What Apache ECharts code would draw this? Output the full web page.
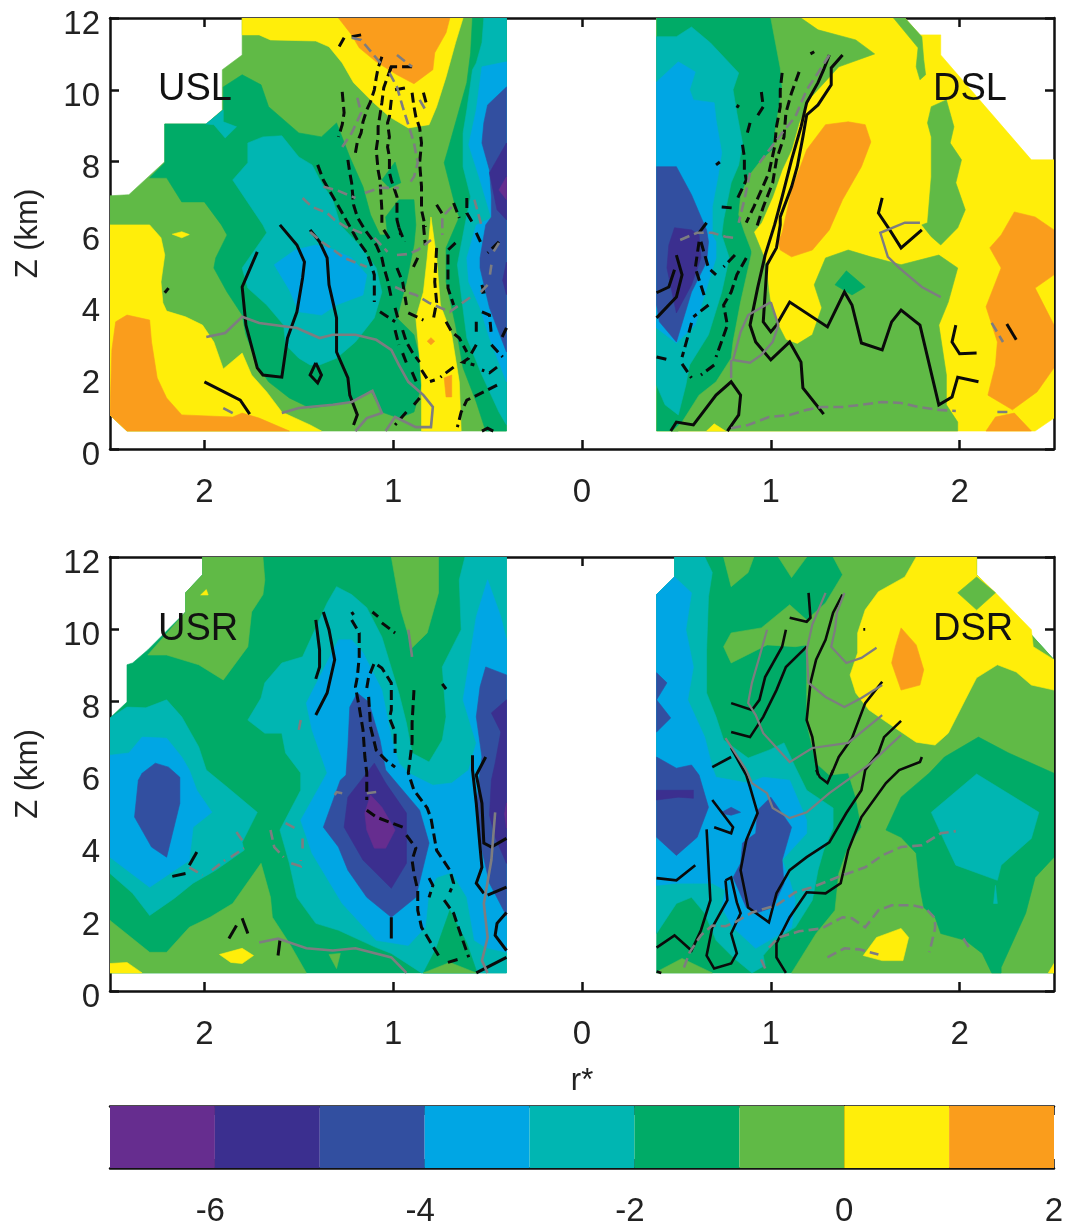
<!DOCTYPE html>
<html><head><meta charset="utf-8">
<style>html,body{margin:0;padding:0;background:#fff}#c{width:1066px;height:1223px}</style>
<script src="https://cdn.jsdelivr.net/npm/echarts@6/dist/echarts.min.js"></script></head>
<body><div id="c"></div>
<script>
// Colour classes: class i covers colourEdges[i]..colourEdges[i+1]
const colourEdges=[-7,-6,-5,-4,-3,-2,-1,0,1,2];
const classColours=['#662D8F','#3B2F8F','#324FA0','#00A6E4','#00B6B2','#00AB67','#60BA46','#FFEE0A','#FA9D1C'];
const rTicks=[-2,-1,0,1,2];
const colourTicks=[-6,-4,-2,0,2];

// Filled bands: [class, [r,z,r,z,...]], painted in order
const USL_bands=[
[6,[-2.5,7.05,-2.40,7.08,-2.21,8.0,-2.21,9.05,-1.99,9.05,-1.905,9.44,-1.905,10.56,-1.80,10.97,-1.80,12,-0.4,12,-0.4,0.5,-2.41,0.5,-2.5,0.95]],
[7,[-2.5,6.24,-2.29,6.24,-2.23,5.88,-2.21,5.40,-2.23,4.65,-2.22,4.07,-2.20,3.84,-2.10,3.68,-2.01,3.45,-1.95,2.98,-1.90,2.23,-1.80,2.67,-1.75,2.06,-1.67,1.59,-1.59,1.03,-1.44,0.67,-1.38,0.5,-2.41,0.5,-2.5,0.95]],
[8,[-2.49,2.76,-2.47,3.54,-2.41,3.73,-2.29,3.59,-2.28,2.98,-2.25,1.98,-2.20,1.42,-2.12,0.95,-1.85,0.89,-1.80,1.0,-1.71,0.86,-1.55,0.5,-2.41,0.5,-2.5,0.95]],
[7,[-2.17,5.98,-2.12,6.05,-2.08,5.97,-2.12,5.88]],
[7,[-1.80,12,-1.80,11.53,-1.71,11.53,-1.65,11.39,-1.41,11.36,-1.34,11.2,-1.27,10.75,-1.21,10.2,-1.11,9.67,-1.02,9.25,-0.92,8.94,-0.81,9.03,-0.77,9.53,-0.72,10.36,-0.67,11.31,-0.63,12]],
[8,[-1.29,12,-1.22,11.53,-1.18,11.17,-1.09,10.78,-0.98,10.42,-0.89,10.17,-0.79,10.56,-0.78,11.03,-0.72,11.59,-0.70,12]],
[5,[-1.90,9.44,-1.99,9.05,-2.21,9.05,-2.21,7.97,-2.29,7.55,-2.20,7.55,-2.12,6.88,-2.0,6.88,-1.91,6.24,-1.88,5.96,-1.94,5.32,-1.95,5.04,-1.88,4.37,-1.80,3.73,-1.78,3.18,-1.72,2.34,-1.66,1.87,-1.55,1.42,-1.44,1.14,-1.32,1.23,-1.21,1.31,-1.12,1.64,-1.06,1.03,-0.97,0.86,-0.89,1.03,-0.85,1.78,-0.86,2.53,-0.89,3.18,-0.98,3.65,-0.93,4.65,-0.89,5.68,-0.88,6.24,-0.89,6.94,-0.97,6.94,-1.04,6.46,-1.03,5.96,-1.07,5.96,-1.12,6.52,-1.16,7.30,-1.23,8.13,-1.30,9.08,-1.38,8.69,-1.50,8.80,-1.66,9.53,-1.70,10.14,-1.80,10.42,-1.90,10.08]],
[4,[-1.99,9.05,-1.90,9.44,-1.90,9.11,-1.83,8.97,-1.89,8.66,-1.95,9.03]],
[5,[-1.06,7.49,-0.99,7.99,-0.96,7.41,-1.02,7.27]],
[7,[-0.80,6.46,-0.82,5.32,-0.84,4.37,-0.88,3.65,-0.86,2.53,-0.85,1.78,-0.85,0.5,-0.64,0.5,-0.65,1.87,-0.69,3.18,-0.75,4.01,-0.77,5.32]],
[8,[-0.73,1.98,-0.69,2.06,-0.69,1.45,-0.72,1.45]],
[8,[-0.80,3.1,-0.78,3.0,-0.80,2.9,-0.82,3.0]],
[5,[-0.58,12,-0.59,11.03,-0.61,10.2,-0.71,8.33,-0.73,7.97,-0.67,6.74,-0.65,6.46,-0.72,5.60,-0.72,4.65,-0.67,3.45,-0.63,2.26,-0.56,1.31,-0.51,0.5,-0.4,0.5,-0.4,12]],
[4,[-1.77,8.52,-1.69,8.69,-1.59,8.72,-1.50,8.13,-1.43,7.91,-1.38,7.41,-1.32,6.94,-1.28,6.24,-1.18,5.68,-1.09,5.04,-1.06,4.37,-1.10,3.65,-1.20,2.98,-1.30,2.53,-1.39,2.34,-1.44,2.34,-1.50,2.53,-1.57,2.90,-1.58,3.45,-1.67,4.01,-1.77,4.48,-1.80,5.04,-1.67,6.02,-1.69,6.24,-1.85,7.49,-1.77,7.97]],
[3,[-1.63,5.13,-1.52,5.54,-1.41,5.68,-1.34,5.60,-1.22,5.32,-1.14,4.85,-1.16,4.29,-1.30,4.01,-1.38,3.73,-1.50,3.82,-1.55,4.43]],
[4,[-0.52,12,-0.53,11.31,-0.56,10.75,-0.58,10.56,-0.61,9.44,-0.63,8.80,-0.63,7.86,-0.59,7.02,-0.62,6.24,-0.66,5.13,-0.61,3.09,-0.53,2.06,-0.44,1.03,-0.4,0.67,-0.4,12]],
[3,[-0.4,10.78,-0.53,10.64,-0.56,9.44,-0.60,8.47,-0.54,7.49,-0.48,6.43,-0.56,6.24,-0.61,5.32,-0.60,4.65,-0.54,3.93,-0.49,3.09,-0.4,1.87]],
[2,[-0.4,10.08,-0.50,9.58,-0.52,9.08,-0.53,8.52,-0.49,7.77,-0.48,7.02,-0.48,6.46,-0.51,6.24,-0.54,5.32,-0.54,5.04,-0.49,3.93,-0.4,2.70]],
[1,[-0.4,8.52,-0.49,7.69,-0.45,6.66,-0.4,6.38]],
[1,[-0.4,5.2,-0.42,4.7,-0.4,4.3]],
[0,[-0.4,7.58,-0.44,7.21,-0.4,6.94]]
];
const DSL_bands=[
[7,[0.395,0.5,0.395,12,1.71,12,1.79,11.53,1.90,11.53,1.90,10.97,2.38,8.05,2.5,8.05,2.5,0.86,2.40,0.5]],
[5,[0.395,12,1.10,12,1.10,9.16,1.04,8.05,0.88,6.10,0.94,4.15,0.86,2.2,0.67,1.36,0.51,0.5,0.395,0.5]],
[6,[1.0,12,1.16,12,1.25,11.67,1.45,11.39,1.55,11.0,1.36,10.64,1.20,9.72,1.15,9.08,1.11,8.33,1.06,7.77,1.01,7.02,0.95,6.30,0.91,6.04,0.96,5.40,0.97,5.32,0.99,4.37,1.0,4.01,1.04,3.45,1.08,3.04,1.14,2.92,1.22,3.18,1.27,3.93,1.23,4.57,1.29,5.32,1.41,5.54,1.53,5.35,1.69,5.13,1.89,5.40,1.99,5.04,1.94,4.09,1.89,3.45,1.93,2.06,1.93,1.23,1.99,0.75,1.99,0.5,0.48,0.5,0.53,0.75,0.62,1.50,0.71,1.87,0.79,2.53,0.80,2.98,0.84,4.09,0.90,5.49,0.86,6.04,0.83,6.52,0.84,7.02,0.88,7.58,0.95,8.05,1.01,8.33,1.03,9.08,1.06,10.08,1.05,10.61]],
[4,[0.395,11.48,0.50,11.48,0.58,11.75,0.68,11.31,0.83,10.47,0.80,10.0,0.82,9.36,0.85,8.52,0.83,7.91,0.79,7.41,0.75,6.38,0.74,5.96,0.78,5.32,0.74,4.37,0.67,3.18,0.57,2.34,0.55,1.78,0.51,0.95,0.44,1.23,0.395,1.78]],
[3,[0.395,10.22,0.51,10.78,0.60,10.5,0.57,10.0,0.59,9.72,0.70,9.64,0.71,9.16,0.74,8.25,0.72,7.58,0.69,6.74,0.69,5.96,0.71,5.77,0.71,5.32,0.67,4.65,0.60,3.45,0.50,2.95,0.395,3.37]],
[2,[0.395,7.86,0.50,7.86,0.58,7.08,0.63,6.46,0.66,6.10,0.67,5.77,0.66,5.21,0.58,4.37,0.50,2.98,0.41,3.54,0.395,4.01]],
[1,[0.49,6.16,0.58,6.10,0.62,5.96,0.63,5.32,0.58,4.57,0.50,3.79,0.45,5.04,0.46,5.68]],
[8,[1.29,9.03,1.41,9.11,1.50,9.03,1.53,8.55,1.48,7.86,1.38,6.94,1.31,6.10,1.22,5.54,1.11,5.35,1.05,5.54,1.04,5.77,1.06,6.02,1.11,7.21,1.19,8.33]],
[5,[1.40,4.96,1.50,4.51,1.43,4.29,1.34,4.57]],
[6,[1.65,12,1.71,12,1.80,11.48,1.81,10.84,1.82,10.42,1.79,10.28,1.77,10.64,1.78,11.17]],
[6,[1.85,9.53,1.93,9.72,1.97,8.97,1.95,8.52,2.01,8.05,1.98,7.41,2.03,6.66,1.99,6.16,1.90,5.68,1.85,5.91,1.80,6.24,1.83,6.30,1.85,7.58,1.85,8.69,1.83,9.08]],
[8,[2.22,5.96,2.29,6.60,2.40,6.46,2.5,6.10,2.5,4.85,2.40,4.48,2.5,3.45,2.5,2.26,2.41,1.59,2.28,1.09,2.15,1.50,2.19,2.34,2.20,2.98,2.14,3.96,2.22,5.04,2.16,5.60]],
[8,[2.14,0.5,2.19,0.89,2.29,1.0,2.38,0.5]],
[7,[0.66,0.5,0.70,0.70,0.76,0.5]]
];
const USR_bands=[
[5,[-2.01,12,-2.01,11.51,-2.10,11.01,-2.10,10.48,-2.30,9.43,-2.38,9.07,-2.41,9.02,-2.41,7.99,-2.5,7.55,-2.5,0.5,-0.4,0.5,-0.4,12]],
[6,[-2.01,12,-1.69,12,-1.68,11.37,-1.69,10.96,-1.75,10.48,-1.77,9.52,-1.90,8.60,-2.03,9.02,-2.20,9.29,-2.30,9.29,-2.10,10.48,-2.10,11.01,-2.01,11.51]],
[6,[-1.01,12,-0.76,12,-0.76,11.01,-0.82,9.90,-0.90,9.49,-0.96,10.54]],
[7,[-2.02,10.95,-1.99,11.1,-1.98,10.95]],
[4,[-2.5,7.55,-2.41,7.85,-2.31,7.83,-2.20,8.05,-2.12,7.58,-2.03,6.75,-1.99,6.11,-1.88,5.64,-1.72,4.94,-1.80,4.11,-1.79,3.89,-1.94,3.34,-2.06,2.98,-2.16,2.56,-2.29,2.09,-2.38,2.70,-2.5,3.25]],
[3,[-2.5,6.52,-2.40,6.58,-2.33,7.02,-2.20,6.99,-2.12,6.47,-2.08,6.11,-2.04,5.55,-1.96,4.94,-2.06,4.53,-2.08,3.61,-2.29,2.87,-2.43,3.42,-2.5,3.70]],
[2,[-2.33,6.02,-2.26,6.30,-2.19,6.19,-2.13,5.91,-2.13,5.19,-2.20,3.70,-2.28,3.98,-2.37,4.81,-2.35,5.83]],
[4,[-1.30,11.18,-1.35,10.73,-1.48,9.24,-1.59,9.07,-1.68,8.52,-1.70,8.10,-1.77,7.49,-1.68,7.13,-1.59,7.13,-1.57,6.58,-1.49,6.03,-1.49,5.55,-1.60,4.45,-1.55,3.53,-1.51,2.59,-1.41,1.87,-1.29,1.68,-1.09,1.20,-1.01,1.04,-0.85,0.5,-0.4,0.5,-0.4,12,-0.62,12,-0.65,11.37,-0.64,9.99,-0.74,8.96,-0.72,7.58,-0.74,6.94,-0.81,6.33,-0.90,6.58,-0.93,7.41,-0.97,8.24,-1.06,9.79,-1.14,10.60,-1.22,10.96]],
[3,[-1.29,9.71,-1.22,9.71,-1.16,9.35,-1.06,8.32,-1.01,7.02,-0.97,6.30,-0.92,6.03,-0.79,5.69,-0.69,5.75,-0.60,6.11,-0.56,6.86,-0.63,8.05,-0.56,10.35,-0.50,11.37,-0.43,10.35,-0.4,9.71,-0.4,1.07,-0.51,1.20,-0.57,1.40,-0.61,2.59,-0.69,3.28,-0.77,3.14,-0.81,2.78,-0.83,1.76,-0.92,1.26,-1.09,1.40,-1.27,2.42,-1.43,3.81,-1.49,4.72,-1.35,6.03,-1.43,7.22,-1.46,7.96]],
[2,[-1.19,8.24,-1.23,7.85,-1.24,6.75,-1.25,5.97,-1.28,5.83,-1.37,4.53,-1.29,3.98,-1.24,3.34,-1.14,2.59,-1.01,2.04,-0.88,2.59,-0.81,4.09,-0.86,5.0,-1.04,6.11,-1.07,6.94,-1.13,7.99]],
[1,[-1.10,6.30,-1.14,6.03,-1.24,5.36,-1.26,4.53,-1.16,3.62,-1.01,2.84,-0.93,3.53,-0.93,4.92,-1.04,5.75]],
[0,[-1.12,5.42,-1.15,4.92,-1.14,4.45,-1.10,3.95,-1.04,3.95,-0.99,4.45,-1.06,5.08]],
[2,[-0.51,8.96,-0.4,8.74,-0.4,2.08,-0.49,2.98,-0.53,3.89,-0.56,5.0,-0.54,6.11,-0.53,6.47,-0.56,7.58,-0.54,8.41]],
[1,[-0.4,8.05,-0.48,7.69,-0.43,7.16,-0.46,6.30,-0.48,5.83,-0.49,4.86,-0.46,4.25,-0.4,3.53]],
[0,[-0.4,5.2,-0.41,4.9,-0.4,4.5]],
[5,[-0.70,2.23,-0.61,1.32,-0.56,0.57,-0.56,0.5,-0.84,0.5,-0.77,1.20]],
[6,[-0.84,0.5,-0.70,0.79,-0.56,0.5]],
[6,[-2.5,1.95,-2.29,1.07,-2.20,1.07,-2.08,1.76,-1.97,2.04,-1.85,2.42,-1.70,3.53,-1.65,2.59,-1.64,2.04,-1.55,1.32,-1.46,0.5,-2.5,0.5]],
[7,[-2.5,0.76,-2.41,0.79,-2.33,0.5,-2.5,0.5]],
[7,[-1.92,1.01,-1.80,1.18,-1.74,0.98,-1.80,0.76,-1.86,0.79]],
[6,[-1.34,1.01,-1.28,1.04,-1.30,0.62]]
];
const DSR_bands=[
[5,[0.395,10.96,0.49,11.45,0.49,12,2.09,12,2.09,11.51,2.5,9.16,2.5,0.5,0.395,0.5]],
[6,[0.75,9.52,0.79,9.90,0.95,10.04,1.10,10.68,1.19,10.26,1.29,10.73,1.38,11.51,1.33,12,2.09,12,2.09,11.51,2.5,9.16,2.5,0.5,1.11,0.5,1.24,1.59,1.34,2.23,1.36,3.25,1.41,3.98,1.48,4.53,1.45,5.36,1.41,6.03,1.31,5.97,1.24,6.30,1.19,7.41,1.19,8.52,1.19,9.57,1.13,9.52,0.98,9.57,0.79,9.07]],
[6,[0.75,12,0.91,12,0.88,11.57,0.79,11.18]],
[6,[1.04,12,1.19,12,1.11,11.43]],
[4,[0.49,12,0.65,12,0.69,11.57,0.67,10.90,0.66,9.43,0.66,8.24,0.71,7.58,0.75,6.94,0.88,6.44,0.99,6.66,1.07,6.86,1.13,6.19,1.19,5.55,1.33,5.06,1.33,4.50,1.28,3.89,1.25,3.34,1.22,2.51,1.13,1.76,1.04,1.48,0.96,0.98,0.97,0.71,0.90,0.5,0.80,0.93,0.71,1.40,0.65,2.15,0.58,2.59,0.50,2.42,0.395,1.59,0.395,10.96,0.49,11.45]],
[3,[0.395,10.96,0.49,11.45,0.58,11.01,0.55,9.99,0.59,8.96,0.56,8.05,0.65,7.02,0.69,6.19,0.71,5.91,0.88,5.75,0.96,5.91,1.10,5.83,1.19,4.72,1.19,4.36,1.06,3.62,1.10,3.06,1.13,2.51,1.11,1.76,0.92,1.18,0.80,1.76,0.74,2.31,0.76,2.78,0.69,2.98,0.59,2.98,0.50,2.98,0.395,2.92]],
[2,[0.395,8.80,0.45,8.52,0.395,8.05,0.47,7.55,0.395,7.16]],
[2,[0.395,6.47,0.50,6.16,0.58,6.25,0.62,5.97,0.67,5.08,0.61,4.25,0.50,3.75,0.395,4.25]],
[1,[0.395,5.55,0.59,5.55,0.59,5.33,0.51,5.36,0.395,5.28]],
[2,[1.0,5.36,1.11,4.53,1.06,3.62,1.07,2.98,1.01,2.31,0.92,2.15,0.87,2.31,0.80,3.14,0.84,3.53,0.85,4.09,0.92,4.36,0.93,5.0]],
[2,[0.74,4.94,0.79,5.08,0.84,4.94,0.79,4.86,0.76,4.89]],
[5,[1.61,4.45,1.69,5.36,1.84,6.03,1.92,6.47,2.10,7.02,2.26,6.58,2.5,6.02,2.5,3.70,2.40,3.14,2.35,2.15,2.22,0.65,2.22,0.5,2.17,0.5,2.12,1.04,2.03,1.40,1.90,1.59,1.87,2.04,1.81,2.31,1.79,2.87,1.77,3.81,1.69,4.25]],
[4,[2.09,6.0,2.42,4.94,2.38,4.22,2.22,3.48,2.20,3.06,1.98,3.48,1.93,4.03,1.85,4.94]],
[4,[2.19,2.92,2.20,2.42,2.18,2.42]],
[7,[1.77,12,2.09,12,2.09,11.51,2.19,11.01,2.38,9.99,2.39,9.52,2.5,9.16,2.5,8.32,2.38,8.46,2.30,8.82,2.20,9.02,2.09,8.66,2.03,8.05,1.94,7.13,1.87,6.80,1.77,6.88,1.62,7.41,1.52,7.77,1.45,8.24,1.42,8.74,1.46,9.35,1.46,9.90,1.50,10.54,1.57,11.04,1.71,11.45]],
[6,[1.99,11.01,2.09,11.45,2.19,11.01,2.09,10.54]],
[8,[1.69,10.04,1.77,9.57,1.81,8.88,1.79,8.46,1.69,8.32,1.64,9.07,1.66,9.52]],
[7,[1.69,1.73,1.73,1.48,1.70,0.84,1.59,0.84,1.49,0.98,1.56,1.48]],
[7,[2.47,0.5,2.5,0.76,2.5,0.5]],
[6,[0.395,0.5,0.41,0.57,0.53,0.90,0.69,0.5]]
];

// Contours: flat r,z lists
const USL_blackDashed=[
[-1.26,11.45,-1.29,11.17],[-1.22,11.48,-1.17,11.53],
[-1.27,9.94,-1.26,9.36,-1.27,9.03,-1.29,8.69],
[-1.06,10.92,-1.08,10.61,-1.09,10.33,-1.10,10.0,-1.12,9.67,-1.14,9.44,-1.16,9.11,-1.17,8.80,-1.19,8.55,-1.20,8.25],
[-1.01,10.64,-1.03,10.36,-1.05,10.06,-1.06,9.64,-1.07,9.30,-1.08,8.97,-1.08,8.69,-1.09,8.33,-1.08,7.77,-1.07,7.49,-1.06,6.66,-1.06,6.30],
[-0.90,10.64,-1.01,10.64,-1.02,10.5],[-0.99,10.0,-0.93,10.06],
[-1.01,9.72,-1.02,9.25,-1.03,9.08,-1.02,8.69,-1.03,8.41,-1.02,8.13,-1.02,7.69,-1.01,7.49,-0.98,7.02,-0.98,6.38,-0.96,5.96],
[-0.90,9.92,-0.89,9.53,-0.88,9.25,-0.86,8.94,-0.85,8.52,-0.86,7.97,-0.85,7.30,-0.85,6.66,-0.83,6.18],
[-0.84,9.92,-0.82,9.53],
[-1.40,7.91,-1.37,7.49,-1.31,6.94,-1.27,6.57,-1.22,6.10,-1.19,5.82,-1.14,5.46,-1.12,5.18,-1.10,4.85,-1.10,4.09],
[-1.24,8.05,-1.23,7.69,-1.22,7.41,-1.21,6.80,-1.19,6.46,-1.15,6.10,-1.09,5.68,-1.06,5.32,-1.05,5.07,-1.03,4.71,-1.01,4.21],
[-1.07,3.82,-0.99,3.54],[-0.99,3.93,-0.97,3.54],[-0.99,3.31,-0.97,2.90],[-0.95,2.67,-0.93,2.40],[-0.90,2.14,-0.87,1.78],
[-1.05,6.10,-1.01,5.77],[-0.97,6.16,-0.94,5.77],
[-0.98,5.04,-0.95,4.65,-0.93,4.01],
[-0.95,3.31,-0.93,2.98,-0.90,2.70,-0.86,2.42],
[-0.85,2.2,-0.81,1.87,-0.78,1.92],
[-0.92,3.79,-0.84,3.59],[-0.84,6.24,-0.83,5.68],[-0.87,5.32,-0.90,4.99],
[-0.77,5.60,-0.78,4.65,-0.77,4.09,-0.79,3.54],
[-0.67,5.74,-0.71,5.54,-0.71,4.48,-0.68,4.01],
[-0.72,3.54,-0.69,3.26,-0.65,3.09,-0.61,2.70],
[-0.68,2.28,-0.75,2.0],
[-0.56,2.90,-0.60,2.53,-0.63,2.42,-0.57,2.34],
[-0.45,2.28,-0.49,2.12,-0.53,2.2],
[-0.45,1.78,-0.52,1.59,-0.61,1.36,-0.64,1.03,-0.66,0.61],
[-0.93,1.03,-0.99,0.67],[-0.86,1.42,-0.89,1.23],[-0.48,2.90,-0.42,2.56],[-0.56,3.54,-0.56,3.18],
[-0.53,3.82,-0.49,3.73,-0.48,3.18],[-0.4,3.37,-0.43,3.04],[-0.44,5.77,-0.50,5.46],
[-0.53,4.57,-0.52,4.37,-0.54,4.35],[-0.56,6.02,-0.53,5.68],
[-0.77,6.80,-0.73,6.46],[-0.68,6.85,-0.65,6.43],[-0.61,6.99,-0.61,6.57,-0.58,6.30]
];
const USL_blackSolid=[
[-1.72,5.49,-1.80,4.51,-1.78,3.45,-1.72,2.26,-1.69,2.06,-1.59,2.0,-1.56,3.09,-1.51,3.82,-1.48,4.76,-1.47,5.21,-1.51,5.68,-1.60,6.24],
[-1.44,6.10,-1.39,5.77,-1.35,5.32,-1.34,4.57,-1.30,3.65,-1.30,2.70,-1.24,1.98,-1.23,1.50,-1.19,0.95,-1.21,0.67],
[-2.0,1.87,-1.81,1.36,-1.76,0.97],
[-1.41,2.40,-1.38,2.06,-1.40,1.84,-1.44,2.06,-1.41,2.40],
[-2.21,4.35,-2.19,4.48],[-0.53,0.5,-0.50,0.58,-0.47,0.5]
];
const USL_graySolid=[
[-1.99,3.12,-1.89,3.23,-1.80,3.68,-1.71,3.51,-1.51,3.37,-1.39,3.09,-1.32,3.18,-1.20,3.18,-1.09,3.04,-1.01,2.76,-0.97,2.34,-0.92,1.87,-0.84,1.50,-0.79,1.17,-0.80,0.61,-0.88,0.61,-0.99,0.89,-1.04,0.5],
[-1.59,1.0,-1.50,1.14,-1.32,1.23,-1.22,1.31,-1.11,1.62,-1.06,1.0,-1.14,0.86,-1.20,0.5],
[-1.90,1.14,-1.85,1.0]
];
const USL_grayDashed=[
[-1.22,11.45,-1.17,11.39,-1.06,10.70],[-0.98,10.97,-0.90,10.64],
[-1.02,10.47,-0.98,10.08,-0.95,9.53,-0.92,9.03,-0.89,8.52,-0.87,7.97,-0.89,7.58,-0.92,7.35],
[-1.15,7.13,-1.07,7.27,-0.97,7.27],[-1.37,7.30,-1.30,7.21,-1.20,6.99],
[-1.48,6.99,-1.43,6.74,-1.35,6.57,-1.31,6.38,-1.25,6.18,-1.14,5.96],
[-1.19,9.78,-1.17,9.36,-1.22,8.80,-1.27,8.41],[-0.86,9.72,-0.82,9.36],
[-0.69,6.74,-0.74,6.46,-0.74,5.96],[-0.57,6.94,-0.53,6.18],
[-1.44,6.04,-1.38,5.77,-1.33,5.60,-1.26,5.32,-1.14,5.07],[-1.10,5.88,-1.03,5.49],
[-0.99,4.51,-0.93,4.37,-0.88,4.29,-0.81,4.07,-0.70,3.82,-0.59,4.23],
[-0.98,5.40,-0.92,5.43,-0.87,5.54,-0.80,5.82],
[-0.44,5.74,-0.48,5.40],[-0.48,5.13,-0.49,4.76],[-0.50,4.57,-0.54,4.35]
];
const DSL_blackSolid=[
[1.38,10.97,1.32,10.61,1.32,10.14,1.25,9.58,1.19,9.30,1.17,8.69,1.14,7.86,1.11,7.30,1.05,6.46,1.05,6.24,1.03,5.60,0.98,5.13,0.96,3.54,1.0,3.26,1.03,3.45],
[1.31,10.97,1.28,10.56,1.25,10.20,1.19,9.64,1.16,8.97,1.11,8.05,1.06,7.02,1.02,6.24,0.97,5.40,0.93,4.48,0.89,3.45,0.92,2.98,1.0,2.48,1.10,2.98,1.16,2.42,1.17,1.70,1.28,0.97],
[1.03,3.45,1.10,4.09,1.30,3.40,1.39,4.37,1.43,4.01,1.48,2.95,1.59,2.76,1.64,3.54,1.69,3.87,1.79,3.45,1.89,1.23,1.96,1.45,1.99,2.0,2.10,1.87],
[1.98,3.45,1.96,2.98,2.0,2.65,2.09,2.67],[2.25,3.48,2.30,3.04],
[1.59,6.99,1.57,6.57,1.63,6.10,1.69,5.60,1.80,6.10],
[0.47,0.5,0.50,0.75,0.59,0.67,0.71,1.50,0.79,1.87,0.84,1.50,0.83,0.95,0.77,0.5],
[0.395,4.35,0.46,4.51,0.49,4.99],[0.50,5.40,0.53,4.85,0.50,4.23,0.395,3.65],
[0.66,6.30,0.62,6.02]
];
const DSL_blackDashed=[
[0.62,5.77,0.60,5.04,0.65,4.23],[0.63,5.77,0.67,5.04,0.71,4.85],[0.81,5.40,0.75,5.07],
[0.87,5.32,0.82,4.85,0.79,4.37,0.75,4.01,0.77,3.45,0.71,2.56],
[0.67,4.01,0.59,3.68],[0.58,3.51,0.56,3.12,0.53,2.56],[0.395,2.56,0.46,2.48],[0.53,2.37,0.58,1.98],[0.70,2.34,0.63,2.06],
[1.06,10.47,1.05,10.0,1.05,9.53,1.03,8.97,1.02,8.41,0.99,7.69,0.95,7.21,0.91,6.74,0.87,6.30],
[1.15,10.5,1.11,9.92,1.08,9.36,1.07,8.69,1.03,8.05,1.01,7.41,0.96,6.74,0.92,6.10],
[0.95,9.94,0.96,9.53,0.93,9.28],[0.82,9.5,0.83,9.58],[0.89,9.08,0.87,8.69],
[0.85,8.47,0.86,8.13,0.86,7.77,0.87,7.49,0.82,6.94],
[0.71,7.91,0.73,7.99],[1.21,11.0,1.23,11.06],[0.74,6.74,0.80,6.71]
];
const DSL_grayDashed=[
[1.31,10.97,1.25,10.47,1.19,10.0,1.13,9.25,1.06,8.80,0.94,7.97],
[0.89,7.69,0.86,6.94,0.83,6.30],
[0.52,5.82,0.61,6.02,0.69,6.02,0.76,5.91,0.80,5.88],
[0.79,0.58,0.88,0.67,0.99,0.89,1.10,0.95,1.19,1.09,1.27,1.17,1.38,1.17,1.48,1.23,1.59,1.31,1.69,1.28,1.78,1.17,1.89,1.09,1.98,1.06],
[2.20,1.03,2.26,1.03],[2.17,3.51,2.23,2.98]
];
const DSL_graySolid=[
[1.0,4.09,1.04,3.45,1.01,2.98,0.95,2.62,0.89,2.40,0.80,2.48,0.84,3.26,0.88,3.73,1.0,4.09],
[0.79,2.48,0.79,1.98],
[1.79,6.30,1.71,6.30,1.58,6.02,1.62,5.35,1.68,5.04,1.80,4.51,1.90,4.23]
];
const USR_blackSolid=[
[-1.41,10.26,-1.39,9.43,-1.39,8.96,-1.41,8.63],
[-1.37,10.48,-1.34,9.99,-1.31,9.16,-1.35,8.24,-1.41,7.63],
[-0.58,6.52,-0.58,6.11,-0.56,5.19,-0.54,3.98,-0.53,3.42,-0.56,2.98,-0.52,2.70],
[-0.51,6.47,-0.56,5.97,-0.53,5.19,-0.52,4.09,-0.48,3.98,-0.4,4.22],
[-0.50,2.65,-0.4,2.87],[-0.4,2.17,-0.45,1.87,-0.46,1.54,-0.4,1.12],[-0.4,0.93,-0.56,0.5],
[-1.01,2.04,-1.01,1.45],[-2.04,3.84,-2.08,3.48],[-2.17,3.17,-2.10,3.25],
[-1.80,2.01,-1.77,1.59],[-1.83,1.81,-1.87,1.45],[-1.60,1.40,-1.61,0.98]
];
const USR_blackDashed=[
[-1.22,10.48,-1.21,10.4],
[-1.22,10.26,-1.18,9.90,-1.18,9.24,-1.19,8.68,-1.20,8.41,-1.18,7.85,-1.16,7.22,-1.15,6.47,-1.14,6.03,-1.14,5.28],
[-1.11,10.48,-1.08,10.35],[-1.06,10.18,-0.99,9.90],
[-1.14,8.38,-1.13,8.68,-1.10,9.07,-1.06,8.93,-1.01,8.52,-1.01,7.77,-1.02,7.55,-0.99,7.16,-0.99,6.58],
[-1.13,8.13,-1.12,7.30,-1.09,6.66,-1.04,6.39,-0.99,6.19],
[-0.89,8.32,-0.90,7.41,-0.90,6.86,-0.92,6.03,-0.89,5.55,-0.82,5.06,-0.80,4.78,-0.77,3.89,-0.70,3.34,-0.68,2.98,-0.70,2.73],
[-0.74,8.49,-0.72,8.35],
[-1.14,5.0,-1.09,4.81,-0.95,4.53],
[-0.93,4.31,-0.88,3.95,-0.90,3.62,-0.89,3.25,-0.87,2.78,-0.87,2.23,-0.85,1.76,-0.76,0.98],
[-0.81,3.12,-0.79,2.92,-0.81,2.59],
[-0.73,2.51,-0.68,2.15,-0.65,1.68,-0.60,0.93],
[-0.71,0.79,-0.64,0.90]
];
const USR_graySolid=[
[-1.71,1.34,-1.61,1.45,-1.46,1.18,-1.32,1.12,-1.20,1.18,-1.01,0.93,-0.93,0.5],
[-0.46,4.94,-0.48,3.62,-0.52,2.42,-0.50,1.48,-0.53,0.84,-0.50,0.5],
[-0.92,9.99,-0.90,9.24],[-1.49,7.49,-1.50,7.22]
];
const USR_grayDashed=[
[-2.08,3.42,-2.01,3.20],[-1.96,3.34,-1.89,3.62],[-1.86,3.70,-1.79,3.95],[-1.80,4.17,-1.84,4.47],
[-1.65,4.45,-1.63,3.98,-1.58,3.70],[-1.57,4.64,-1.50,4.45],[-1.48,4.22,-1.48,3.84],[-1.54,3.53,-1.49,3.45,-1.49,3.62],
[-1.31,5.42,-1.30,5.50,-1.27,5.47],[-1.14,5.47,-1.09,5.50]
];
const DSR_blackSolid=[
[1.20,11.01,1.21,10.32,1.19,10.21,1.10,10.32],
[1.38,10.96,1.33,10.46,1.29,9.71,1.24,9.16,1.21,8.52,1.19,7.49,1.22,7.02,1.25,5.97],
[1.24,6.11,1.26,5.91,1.30,5.75,1.33,6.11],
[1.08,9.99,1.06,9.52,0.97,8.68,0.94,8.05,0.90,7.77,0.79,7.96],
[1.19,9.52,1.08,8.96,1.03,8.32,0.96,7.58,0.89,7.02,0.79,7.16],
[1.59,8.55,1.50,7.96,1.43,6.99,1.36,6.47,1.32,5.97],
[1.69,7.47,1.60,7.02,1.57,6.58,1.50,6.11,1.48,5.55,1.40,4.92,1.31,4.11,1.19,3.70,1.10,3.34,1.03,2.70,0.99,1.90,0.88,2.31,0.84,3.34,0.87,4.17,0.93,4.92,0.89,5.64,0.87,5.97,0.79,6.72],
[0.79,6.47,0.69,6.19],
[1.80,6.47,1.79,6.33,1.68,6.11,1.61,5.75,1.48,4.81,1.41,3.89,1.37,2.98,1.29,2.70,1.19,2.73,1.10,2.04,1.03,1.32,1.03,0.93,1.08,0.5],
[0.69,5.28,0.80,4.53,0.79,4.36,0.70,4.53],
[0.66,4.47,0.68,2.51,0.63,1.68,0.58,1.12,0.49,1.54,0.395,1.20],
[0.76,3.06,0.79,3.14,0.82,2.45,0.84,2.15,0.79,1.59,0.82,1.04,0.79,0.76,0.70,0.62,0.66,0.98,0.69,1.76,0.77,2.51,0.76,3.06],
[0.395,3.12,0.50,3.06,0.60,3.48],[0.395,0.54,0.42,0.5],[1.49,10.0,1.5,10.0]
];
const DSR_graySolid=[
[1.29,11.01,1.22,10.13,1.19,9.43,1.20,8.52,1.29,8.13,1.39,7.85,1.48,8.10,1.59,8.46],
[1.39,11.01,1.35,10.46,1.34,9.99,1.32,9.52,1.40,9.07,1.48,9.21,1.56,9.49],
[0.98,9.99,0.94,9.24,0.90,8.52,0.88,7.96,0.92,7.63,0.96,7.13,1.10,6.33,1.22,6.72,1.41,6.86,1.59,7.63],
[0.76,6.99,0.87,6.11,0.90,5.75,0.98,5.47,1.01,5.06,1.10,4.78,1.19,4.94,1.31,5.47,1.48,6.11,1.53,6.30,1.69,7.08]
];
const DSR_grayDashed=[
[0.54,0.65,0.57,1.07,0.63,1.54,0.69,1.81,0.76,1.79,0.81,1.90,0.90,2.17,1.03,2.37,1.13,2.73,1.22,2.87,1.38,3.20,1.50,3.42,1.59,3.75,1.69,3.98,1.80,4.03,1.90,4.36,1.98,4.42],
[0.97,0.62,0.94,0.98],
[0.99,1.20,1.04,1.48,1.15,1.65,1.27,1.73,1.38,2.04,1.43,2.01,1.50,1.76,1.57,2.23,1.64,2.37,1.75,2.37,1.82,2.29,1.87,2.01,1.87,1.73,1.84,1.07],
[1.30,0.93,1.39,1.18,1.47,1.15,1.57,1.01],
[2.02,1.45,2.06,1.12]
];

const FONT='"Liberation Sans",Arial,sans-serif', INK='#222';
const toPairs=f=>{const o=[];for(let i=0;i<f.length;i+=2)o.push([f[i],f[i+1]]);return o;};

const grids=[
 {left:110,top:18,width:944,height:431,outerBoundsMode:'none'},
 {left:110,top:557,width:944,height:434,outerBoundsMode:'none'},
 {left:110,top:1106,width:944,height:62,outerBoundsMode:'none'}
];
const frameLine={show:true,onZero:false,lineStyle:{color:'#111',width:2.5}};
function rAxis(g,pos,labels,extra){return Object.assign({type:'value',gridIndex:g,position:pos,min:-2.5,max:2.5,
  axisLine:frameLine,splitLine:{show:false},
  axisTick:{show:true,inside:true,length:9,customValues:rTicks,lineStyle:{color:'#111',width:2.5}},
  axisLabel:labels?{show:true,customValues:rTicks,margin:27,fontFamily:FONT,fontSize:33,color:INK,formatter:v=>String(Math.abs(v))}:{show:false}},extra||{});}
function zAxis(g,pos,labels){return {type:'value',gridIndex:g,position:pos,min:0,max:12,interval:2,
  axisLine:frameLine,splitLine:{show:false},
  axisTick:{show:true,inside:true,length:9,lineStyle:{color:'#111',width:2.5}},
  axisLabel:labels?{show:true,margin:10,formatter:v=>'{n|'+v+'}',rich:{n:{fontFamily:FONT,fontSize:33,color:INK,padding:[14,0,0,0]}}}:{show:false},
  name:labels?'Z (km)':'',nameLocation:'middle',nameGap:66,nameTextStyle:{fontFamily:FONT,fontSize:31,color:INK}};}

const xAxes=[
 rAxis(0,'bottom',true),rAxis(0,'top',false),
 rAxis(1,'bottom',true,{name:'r*',nameLocation:'middle',nameGap:75,nameTextStyle:{fontFamily:FONT,fontSize:31,color:INK}}),rAxis(1,'top',false),
 {type:'value',gridIndex:2,position:'bottom',min:-7,max:2,axisLine:frameLine,splitLine:{show:false},
  axisTick:{show:true,inside:true,length:9,customValues:colourTicks,lineStyle:{color:'#111',width:1.5}},
  axisLabel:{show:true,customValues:colourTicks,margin:27,fontFamily:FONT,fontSize:33,color:INK,formatter:v=>v<0?v+' ':String(v)}},
 {type:'value',gridIndex:2,position:'top',min:-7,max:2,axisLine:frameLine,splitLine:{show:false},
  axisTick:{show:true,inside:true,length:9,customValues:colourTicks,lineStyle:{color:'#111',width:1.5}},axisLabel:{show:false}}
];
const yAxes=[zAxis(0,'left',true),zAxis(0,'right',false),zAxis(1,'left',true),zAxis(1,'right',false),
 {type:'value',gridIndex:2,position:'left',min:0,max:1,axisLine:{show:true,lineStyle:{color:'#111',width:1}},axisTick:{show:false},axisLabel:{show:false},splitLine:{show:false}},
 {type:'value',gridIndex:2,position:'right',min:0,max:1,axisLine:{show:true,lineStyle:{color:'#111',width:1}},axisTick:{show:false},axisLabel:{show:false},splitLine:{show:false}}
];

const series=[];
function addBands(bands,xi,yi){
 series.push({type:'custom',xAxisIndex:xi,yAxisIndex:yi,z:1,silent:true,animation:false,clip:true,
  data:bands.map((b,i)=>[i,b[0]]),
  renderItem:(p,api)=>{const b=bands[p.dataIndex];const c=classColours[b[0]];
    return {type:'polygon',shape:{points:toPairs(b[1]).map(q=>api.coord(q))},style:{fill:c,stroke:c,lineWidth:0.6}};}});
}
function addLines(list,xi,yi,color,width,dash,z){
 (list||[]).forEach(f=>series.push({type:'line',xAxisIndex:xi,yAxisIndex:yi,z:z,silent:true,animation:false,showSymbol:false,symbol:'none',
   data:toPairs(f),lineStyle:{color:color,width:width,type:dash?[10,5]:'solid',cap:'butt',join:'miter'}}));
}
const BLK='#0a0a0a',GRY='#7d7d80';
addBands(USL_bands,0,0);addBands(DSL_bands,0,0);addBands(USR_bands,2,2);addBands(DSR_bands,2,2);
addLines(USL_blackSolid,0,0,BLK,3,false,3);addLines(USL_blackDashed,0,0,BLK,3,true,3);
addLines(DSL_blackSolid,0,0,BLK,3,false,3);addLines(DSL_blackDashed,0,0,BLK,3,true,3);
addLines(USR_blackSolid,2,2,BLK,3,false,3);addLines(USR_blackDashed,2,2,BLK,3,true,3);
addLines(DSR_blackSolid,2,2,BLK,2.6,false,3);
addLines(USL_graySolid,0,0,GRY,2.6,false,4);addLines(USL_grayDashed,0,0,GRY,2.6,true,4);
addLines(DSL_graySolid,0,0,GRY,2.4,false,4);addLines(DSL_grayDashed,0,0,GRY,2.6,true,4);
addLines(USR_graySolid,2,2,GRY,2.6,false,4);addLines(USR_grayDashed,2,2,GRY,2.6,true,4);
addLines(DSR_graySolid,2,2,GRY,2.2,false,4);addLines(DSR_grayDashed,2,2,GRY,2.6,true,4);

// colour key
series.push({type:'custom',xAxisIndex:4,yAxisIndex:4,z:1,silent:true,animation:false,
 data:classColours.map((c,i)=>[colourEdges[i],colourEdges[i+1]]),
 renderItem:(p,api)=>{const a=api.coord([api.value(0),0]),b=api.coord([api.value(1),1]);
   return {type:'rect',shape:{x:a[0],y:b[1],width:b[0]-a[0],height:a[1]-b[1]},style:{fill:classColours[p.dataIndex]}};}});

const panelText=(t,x,y)=>({type:'text',x:x,y:y,z:20,style:{text:t,fontFamily:FONT,fontSize:38,fill:'#111'}});
const chart=echarts.init(document.getElementById('c'),null,{renderer:'canvas'});
chart.setOption({animation:false,backgroundColor:'#fff',grid:grids,xAxis:xAxes,yAxis:yAxes,series:series,
 graphic:[panelText('USL',158,71),panelText('DSL',933,71),panelText('USR',158,611),panelText('DSR',933,611)]});
</script></body></html>
